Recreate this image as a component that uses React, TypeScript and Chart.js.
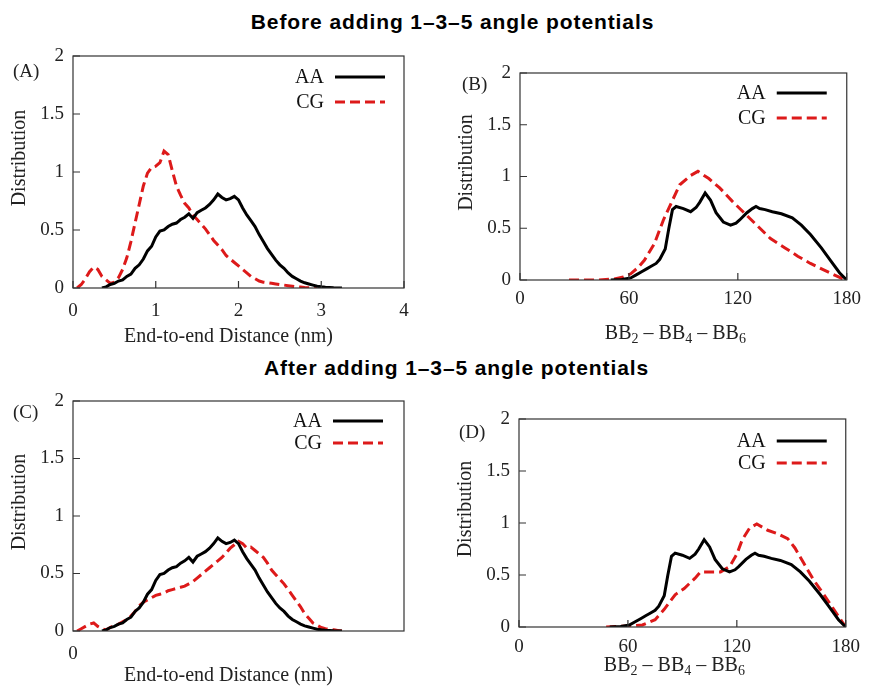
import React, { useEffect, useRef } from "react";
import { Chart, registerables } from "chart.js";

Chart.register(...registerables);

// ---------- data ----------
const distTicks = [0, 1, 2, 3, 4];
const angleTicks = [0, 60, 120, 180];
const yTicks = [0, 0.5, 1, 1.5, 2];

const seriesLabels = ["AA", "CG"];
const titleBefore = "Before adding 1–3–5 angle potentials";
const titleAfter = "After adding 1–3–5 angle potentials";
const distTitle = "End-to-end Distance (nm)";
const angleTitle = [
  { t: "BB" }, { t: "2", sub: true }, { t: " – BB" }, { t: "4", sub: true }, { t: " – BB" }, { t: "6", sub: true },
];
const yTitle = "Distribution";

// AA end-to-end distance (same reference in A and C)
const aaDistX = [0.35, 0.4, 0.45, 0.5, 0.55, 0.6, 0.65, 0.7, 0.75, 0.8, 0.85, 0.9, 0.95, 1.0, 1.05, 1.1, 1.15, 1.2, 1.25, 1.3, 1.35, 1.4, 1.45, 1.5, 1.55, 1.6, 1.65, 1.7, 1.75, 1.8, 1.85, 1.9, 1.95, 2.0, 2.05, 2.1, 2.15, 2.2, 2.25, 2.3, 2.35, 2.4, 2.45, 2.5, 2.55, 2.6, 2.65, 2.7, 2.75, 2.8, 2.85, 2.9, 2.95, 3.0, 3.05, 3.1, 3.15, 3.2, 3.25];
const aaDistY = [0.0, 0.01, 0.03, 0.04, 0.06, 0.07, 0.1, 0.12, 0.17, 0.2, 0.25, 0.32, 0.36, 0.44, 0.49, 0.5, 0.53, 0.55, 0.56, 0.59, 0.61, 0.64, 0.6, 0.65, 0.67, 0.69, 0.72, 0.76, 0.81, 0.78, 0.76, 0.77, 0.79, 0.76, 0.69, 0.63, 0.58, 0.53, 0.46, 0.4, 0.34, 0.29, 0.24, 0.2, 0.17, 0.13, 0.1, 0.08, 0.06, 0.045, 0.035, 0.025, 0.015, 0.01, 0.006, 0.004, 0.002, 0.001, 0.0];

// CG end-to-end distance, before (A)
const cgBeforeDistX = [0.05, 0.1, 0.15, 0.2, 0.25, 0.3, 0.35, 0.4, 0.45, 0.5, 0.55, 0.6, 0.65, 0.7, 0.75, 0.8, 0.85, 0.9, 0.95, 1.0, 1.05, 1.1, 1.15, 1.2, 1.25, 1.3, 1.35, 1.4, 1.45, 1.5, 1.55, 1.6, 1.65, 1.7, 1.75, 1.8, 1.85, 1.9, 1.95, 2.0, 2.05, 2.1, 2.15, 2.2, 2.25, 2.3, 2.35, 2.4, 2.45, 2.5, 2.55, 2.6, 2.65, 2.7, 2.75, 2.8, 2.85, 2.9, 2.95];
const cgBeforeDistY = [0.0, 0.03, 0.08, 0.14, 0.18, 0.16, 0.1, 0.07, 0.04, 0.05, 0.09, 0.16, 0.26, 0.4, 0.56, 0.72, 0.88, 0.99, 1.04, 1.05, 1.08, 1.18, 1.15, 1.01, 0.88, 0.8, 0.73, 0.69, 0.63, 0.59, 0.55, 0.51, 0.46, 0.41, 0.37, 0.33, 0.28, 0.25, 0.22, 0.19, 0.16, 0.13, 0.1, 0.08, 0.06, 0.05, 0.045, 0.04, 0.035, 0.03, 0.025, 0.02, 0.015, 0.01, 0.008, 0.005, 0.003, 0.001, 0.0];

// CG end-to-end distance, after (C)
const cgAfterDistX = [0.05, 0.1, 0.15, 0.2, 0.25, 0.3, 0.35, 0.4, 0.45, 0.5, 0.55, 0.6, 0.65, 0.7, 0.75, 0.8, 0.85, 0.9, 0.95, 1.0, 1.05, 1.1, 1.15, 1.2, 1.25, 1.3, 1.35, 1.4, 1.45, 1.5, 1.55, 1.6, 1.65, 1.7, 1.75, 1.8, 1.85, 1.9, 1.95, 2.0, 2.05, 2.1, 2.15, 2.2, 2.25, 2.3, 2.35, 2.4, 2.45, 2.5, 2.55, 2.6, 2.65, 2.7, 2.75, 2.8, 2.85, 2.9, 2.95, 3.0, 3.05, 3.1, 3.15, 3.2, 3.25];
const cgAfterDistY = [0.0, 0.02, 0.04, 0.06, 0.07, 0.04, 0.02, 0.01, 0.03, 0.05, 0.06, 0.08, 0.1, 0.13, 0.17, 0.22, 0.25, 0.27, 0.29, 0.31, 0.32, 0.33, 0.35, 0.36, 0.37, 0.38, 0.39, 0.41, 0.43, 0.46, 0.49, 0.52, 0.55, 0.58, 0.61, 0.64, 0.68, 0.72, 0.75, 0.78, 0.76, 0.72, 0.73, 0.7, 0.67, 0.64, 0.59, 0.53, 0.49, 0.45, 0.41, 0.36, 0.31, 0.26, 0.21, 0.15, 0.11, 0.07, 0.05, 0.03, 0.02, 0.015, 0.01, 0.005, 0.0];

// AA BB2–BB4–BB6 angle (same reference in B and D)
const aaAngleX = [50, 56, 61, 64, 67, 70, 72, 75, 77, 80, 82, 84, 86, 90, 94, 97, 99, 102, 105, 108, 112, 116, 119, 121, 125, 128, 130, 132, 135, 139, 144, 150, 155, 160, 166, 171, 176, 180];
const aaAngleY = [0.0, 0.005, 0.02, 0.05, 0.08, 0.11, 0.13, 0.16, 0.2, 0.3, 0.5, 0.68, 0.71, 0.69, 0.66, 0.7, 0.75, 0.84, 0.77, 0.65, 0.56, 0.53, 0.55, 0.58, 0.65, 0.69, 0.71, 0.69, 0.68, 0.66, 0.64, 0.6, 0.53, 0.44, 0.31, 0.19, 0.07, 0.0];

// CG angle, before (B)
const cgBeforeAngleX = [27, 43, 52, 57, 61, 65, 68.5, 74, 79, 84, 88, 94, 98, 104, 110, 117, 124, 131, 138, 146, 153, 160, 167, 173, 178, 180];
const cgBeforeAngleY = [0.0, 0.0, 0.01, 0.03, 0.06, 0.12, 0.19, 0.35, 0.58, 0.77, 0.92, 1.01, 1.05, 0.98, 0.89, 0.76, 0.64, 0.52, 0.4, 0.31, 0.23, 0.16, 0.1, 0.05, 0.01, 0.0];

// CG angle, after (D)
const cgAfterAngleX = [48, 55, 60, 68, 75, 80, 86, 91, 97, 100, 106, 111, 116, 120, 123, 127, 131, 137, 142, 148, 152, 157, 162, 168, 173, 178, 180];
const cgAfterAngleY = [0.0, 0.005, 0.01, 0.02, 0.07, 0.17, 0.31, 0.37, 0.47, 0.53, 0.53, 0.53, 0.58, 0.7, 0.84, 0.95, 0.99, 0.93, 0.9, 0.85, 0.76, 0.61, 0.46, 0.31, 0.18, 0.05, 0.0];

// ---------- layout / styles ----------
const W = 869;
const H = 687;
const SERIF = '"Liberation Serif", "Times New Roman", serif';
const RED = "#dd1a1a";
const Y_AXIS_W = 60;
const X_AXIS_H = 40;

const zip = (xs: number[], ys: number[]) => xs.map((x, i) => ({ x, y: ys[i] }));

type Panel = {
  label: string;
  area: { l: number; t: number; r: number; b: number };
  xMax: number;
  xTicks: number[];
  xLabelFilter: (v: number) => boolean;
  xTickMarks: boolean;
  xPad: number;
  xTitle: { t: string; sub?: boolean }[];
  xTitleDx: number;
  xTitleDy: number;
  labelDx: number;
  labelDy: number;
  legendDy: number[];
  legendRight: number;
  aa: { x: number; y: number }[];
  cg: { x: number; y: number }[];
};

const panels: Panel[] = [
  {
    label: "(A)", area: { l: 73, t: 56, r: 404, b: 288 }, xMax: 4, xTicks: distTicks,
    xLabelFilter: () => true, xTickMarks: true, xPad: 12,
    xTitle: [{ t: distTitle }], xTitleDx: -10, xTitleDy: 48,
    labelDx: -60, labelDy: 16, legendDy: [21, 46], legendRight: 19,
    aa: zip(aaDistX, aaDistY), cg: zip(cgBeforeDistX, cgBeforeDistY),
  },
  {
    label: "(B)", area: { l: 520, t: 73, r: 853, b: 280 }, xMax: 180, xTicks: angleTicks,
    xLabelFilter: () => true, xTickMarks: true, xPad: 8,
    xTitle: angleTitle, xTitleDx: -8, xTitleDy: 53,
    labelDx: -58, labelDy: 12, legendDy: [20, 45], legendRight: 20,
    aa: zip(aaAngleX, aaAngleY), cg: zip(cgBeforeAngleX, cgBeforeAngleY),
  },
  {
    label: "(C)", area: { l: 73, t: 401, r: 404, b: 631 }, xMax: 4, xTicks: distTicks,
    xLabelFilter: (v) => v === 0, xTickMarks: false, xPad: 12,
    xTitle: [{ t: distTitle }], xTitleDx: -10, xTitleDy: 44,
    labelDx: -60, labelDy: 12, legendDy: [20, 42], legendRight: 21,
    aa: zip(aaDistX, aaDistY), cg: zip(cgAfterDistX, cgAfterDistY),
  },
  {
    label: "(D)", area: { l: 519, t: 419, r: 849, b: 627 }, xMax: 180, xTicks: angleTicks,
    xLabelFilter: () => true, xTickMarks: true, xPad: 9,
    xTitle: angleTitle, xTitleDx: -8, xTitleDy: 38,
    labelDx: -60, labelDy: 14, legendDy: [22, 44], legendRight: 19,
    aa: zip(aaAngleX, aaAngleY), cg: zip(cgAfterAngleX, cgAfterAngleY),
  },
];

const decorPlugin = {
  id: "decor",
  afterDraw(chart: any, _args: any, o: any) {
    const p: Panel = o.panel;
    const { ctx, chartArea: a } = chart;
    const xs = chart.scales.x;
    const ys = chart.scales.y;
    ctx.save();
    // frame
    ctx.strokeStyle = "#333";
    ctx.lineWidth = 1.2;
    ctx.setLineDash([]);
    ctx.strokeRect(a.left, a.top, a.right - a.left, a.bottom - a.top);
    // inward tick marks
    ctx.beginPath();
    if (p.xTickMarks) {
      xs.ticks.forEach((t: any) => {
        const px = xs.getPixelForValue(t.value);
        ctx.moveTo(px, a.bottom);
        ctx.lineTo(px, a.bottom - 7);
      });
    }
    ys.ticks.forEach((t: any) => {
      const py = ys.getPixelForValue(t.value);
      ctx.moveTo(a.left, py);
      ctx.lineTo(a.left + 7, py);
    });
    ctx.stroke();

    // legend (text left of sample line)
    chart.data.datasets.forEach((ds: any, i: number) => {
      const y = a.top + p.legendDy[i];
      const x2 = a.right - p.legendRight;
      const x1 = x2 - 50;
      ctx.strokeStyle = ds.borderColor;
      ctx.lineWidth = ds.borderWidth;
      ctx.setLineDash(ds.borderDash || []);
      ctx.beginPath();
      ctx.moveTo(x1, y);
      ctx.lineTo(x2, y);
      ctx.stroke();
      ctx.setLineDash([]);
      ctx.fillStyle = "#111";
      ctx.font = `20px ${SERIF}`;
      ctx.textAlign = "right";
      ctx.textBaseline = "middle";
      ctx.fillText(ds.label, x1 - 11, y + 1);
    });

    // panel label
    ctx.fillStyle = "#222";
    ctx.font = `19px ${SERIF}`;
    ctx.textAlign = "left";
    ctx.textBaseline = "middle";
    ctx.fillText(p.label, a.left + p.labelDx, a.top + p.labelDy);

    // y title
    ctx.save();
    ctx.translate(a.left - 53, (a.top + a.bottom) / 2 - 14);
    ctx.rotate(-Math.PI / 2);
    ctx.textAlign = "center";
    ctx.textBaseline = "middle";
    ctx.font = `20px ${SERIF}`;
    ctx.fillText(yTitle, 0, 0);
    ctx.restore();

    // x title (with subscripts)
    const main = `20px ${SERIF}`;
    const small = `14px ${SERIF}`;
    let total = 0;
    p.xTitle.forEach((s) => {
      ctx.font = s.sub ? small : main;
      total += ctx.measureText(s.t).width;
    });
    let x = (a.left + a.right) / 2 + p.xTitleDx - total / 2;
    const yb = a.bottom + p.xTitleDy + 6;
    ctx.textAlign = "left";
    ctx.textBaseline = "alphabetic";
    p.xTitle.forEach((s) => {
      ctx.font = s.sub ? small : main;
      ctx.fillText(s.t, x, s.sub ? yb + 4 : yb);
      x += ctx.measureText(s.t).width;
    });
    ctx.restore();
  },
};

function PanelChart({ panel }: { panel: Panel }) {
  const ref = useRef<HTMLCanvasElement | null>(null);
  useEffect(() => {
    if (!ref.current) return;
    const a = panel.area;
    const chart = new Chart(ref.current, {
      type: "line",
      data: {
        datasets: [
          {
            label: seriesLabels[0], data: panel.aa, borderColor: "#000", borderWidth: 3,
            pointRadius: 0, tension: 0, fill: false,
          },
          {
            label: seriesLabels[1], data: panel.cg, borderColor: RED, borderWidth: 3,
            borderDash: [10, 5], pointRadius: 0, tension: 0, fill: false,
          },
        ],
      },
      options: {
        animation: false,
        responsive: false,
        events: [],
        layout: {
          padding: {
            left: a.l - Y_AXIS_W,
            top: a.t,
            right: W - a.r,
            bottom: H - a.b - X_AXIS_H,
          },
        },
        plugins: {
          legend: { display: false },
          tooltip: { enabled: false },
          decor: { panel },
        } as any,
        scales: {
          x: {
            type: "linear",
            min: 0,
            max: panel.xMax,
            grid: { display: false, drawTicks: false },
            border: { display: false },
            afterBuildTicks: (s: any) => {
              s.ticks = panel.xTicks.map((v) => ({ value: v }));
            },
            afterFit: (s: any) => {
              s.height = X_AXIS_H;
            },
            ticks: {
              autoSkip: false,
              maxRotation: 0,
              padding: panel.xPad,
              color: "#222",
              font: { family: SERIF, size: 19 },
              callback: (v: any) => (panel.xLabelFilter(Number(v)) ? String(v) : ""),
            },
          },
          y: {
            type: "linear",
            min: 0,
            max: 2,
            grid: { display: false, drawTicks: false },
            border: { display: false },
            afterBuildTicks: (s: any) => {
              s.ticks = yTicks.map((v) => ({ value: v }));
            },
            afterFit: (s: any) => {
              s.width = Y_AXIS_W;
            },
            ticks: {
              padding: 9,
              color: "#222",
              font: { family: SERIF, size: 19 },
              callback: (v: any) => String(v),
            },
          },
        },
      },
      plugins: [decorPlugin],
    } as any);
    return () => chart.destroy();
  }, [panel]);
  return (
    <canvas
      ref={ref}
      width={W}
      height={H}
      style={{ position: "absolute", left: 0, top: 0, width: W, height: H }}
    />
  );
}

export default function App() {
  const titleStyle: React.CSSProperties = {
    position: "absolute",
    width: W,
    textAlign: "center",
    fontFamily: '"Liberation Sans", Arial, sans-serif',
    fontWeight: "bold",
    fontSize: 21,
    letterSpacing: "0.9px",
    lineHeight: "24px",
    color: "#000",
    whiteSpace: "nowrap",
  };
  return (
    <div style={{ position: "absolute", left: 0, top: 0, width: W, height: H, background: "#fff", overflow: "hidden" }}>
      <div style={{ ...titleStyle, left: 18, top: 10 }}>{titleBefore}</div>
      <div style={{ ...titleStyle, left: 22, top: 356 }}>{titleAfter}</div>
      {panels.map((p) => (
        <PanelChart key={p.label} panel={p} />
      ))}
    </div>
  );
}
